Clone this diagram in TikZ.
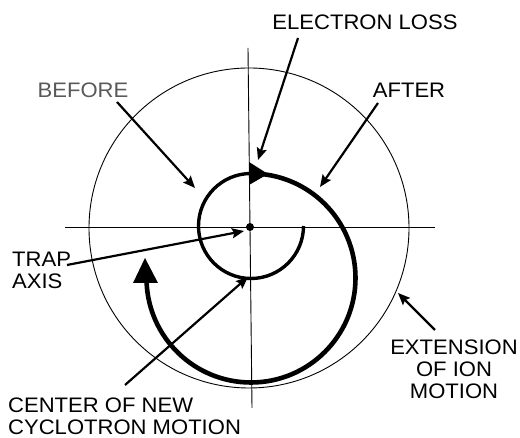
\documentclass[tikz,border=0pt]{standalone}
\usepackage{fontspec}
\setmainfont[FakeStretch=1.05]{Liberation Sans}
\usetikzlibrary{arrows.meta}
\begin{document}
\begin{tikzpicture}[x=1pt,y=1pt,
  thinline/.style={line width=0.9pt},
  lbl/.style={font=\fontsize{21}{22}\selectfont, inner sep=0pt},
  pointer/.style={line width=2.2pt, -{Stealth[length=12pt,width=10pt,inset=2pt]}},
  headfill/.style={fill=black, draw=none}]
\useasboundingbox (0,0) rectangle (520,438);
% axes
\coordinate (vt) at (248,390);
\coordinate (vb) at (252,30);
\draw[thinline] (vt) -- (vb);
\coordinate (hl) at (65,211);
\coordinate (hr) at (435,211);
\draw[thinline] (hl) -- (hr);
% extension circle
\node[draw, thinline, circle, minimum size=320pt, inner sep=0pt] (ext) at (249,210) {};
% before orbit
\coordinate (bstart) at (303.5,212);
\draw[line width=3.4pt] (bstart) arc[start angle=0, end angle=-270, radius=52.5] coordinate (btop);
% after orbit
\draw[line width=4.6pt] (btop) arc[start angle=90, end angle=-178, radius=104.5] coordinate (aend);
% arrow heads on orbits
\fill[headfill] (249,276) -- (268,264) -- (249,253) -- cycle;
\fill[headfill] (133,155) -- (145,180) -- (158,155) -- cycle;
% trap axis dot
\node[circle, fill, inner sep=0pt, minimum size=8pt] (axis) at (250,211) {};
% labels
\node[lbl] (eloss) at (365,416) {ELECTRON LOSS};
\node[lbl, text=black!65] (before) at (83,348) {BEFORE};
\node[lbl] (after) at (409,348) {AFTER};
\node[lbl, align=left, anchor=north west] (trap) at (12,186) {TRAP\\AXIS};
\node[lbl, align=left, anchor=north west] (cntr) at (8,40) {CENTER OF NEW\\CYCLOTRON MOTION};
\node[lbl, align=center, anchor=north] (extn) at (454,98) {EXTENSION\\OF ION\\MOTION};
% pointer coordinates
\coordinate (elT) at (298,400); \coordinate (elH) at (258,278);
\coordinate (bfT) at (117,336); \coordinate (bfH) at (195,250);
\coordinate (afT) at (378,335); \coordinate (afH) at (320,251);
\coordinate (trT) at (67,173);  \coordinate (trH) at (244,207);
\coordinate (ceT) at (125,53);  \coordinate (ceH) at (248,161);
\coordinate (exT) at (435,108); \coordinate (exH) at (398,145);
\draw[pointer] (elT) -- (elH);
\draw[pointer] (bfT) -- (bfH);
\draw[pointer] (afT) -- (afH);
\draw[pointer] (trT) -- (trH);
\draw[pointer] (ceT) -- (ceH);
\draw[pointer] (exT) -- (exH);
\end{tikzpicture}
\end{document}
